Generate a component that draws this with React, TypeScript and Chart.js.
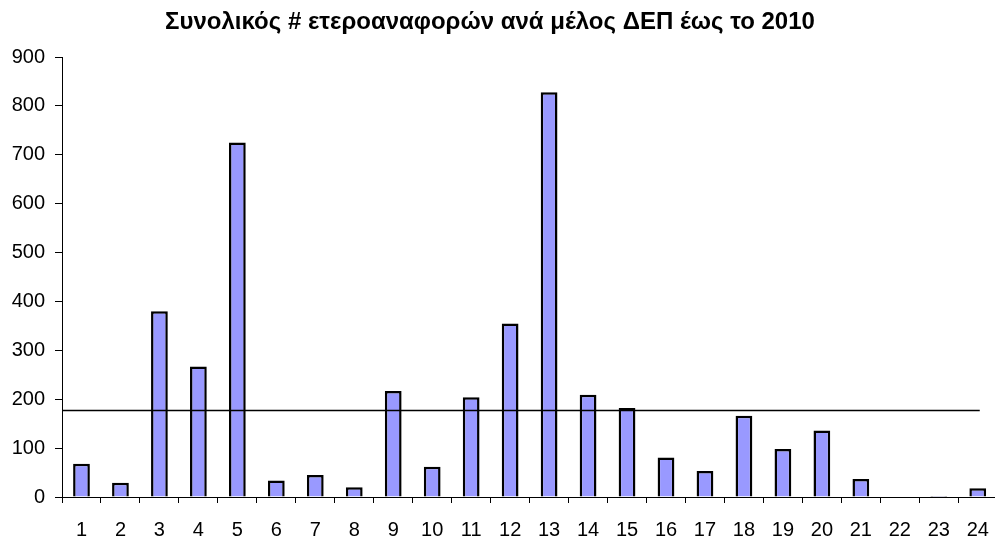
import React, { useEffect, useRef } from "react";
import { Chart, registerables } from "chart.js";

Chart.register(...registerables);

const TITLE = "Συνολικός # ετεροαναφορών ανά μέλος ΔΕΠ έως το 2010";
const categories = ["1","2","3","4","5","6","7","8","9","10","11","12","13","14","15","16","17","18","19","20","21","22","23","24"];
const citations = [68, 29, 380, 267, 725, 34, 45, 20, 217, 62, 204, 355, 828, 209, 182, 81, 53, 166, 98, 136, 37, 0, 2, 18];
const averageValue = 177;
const yTicks = [0, 100, 200, 300, 400, 500, 600, 700, 800, 900];

const FONT = "'Liberation Sans', Arial, sans-serif";

const overlayPlugin = {
  id: "overlay",
  afterDatasetsDraw(chart: any) {
    const ctx = chart.ctx;
    const x = chart.scales.x;
    const y = chart.scales.y;
    const yp = Math.round(y.getPixelForValue(averageValue)) + 0.5;
    ctx.save();
    ctx.strokeStyle = "#000";
    ctx.lineWidth = 1.5;
    ctx.beginPath();
    ctx.moveTo(chart.chartArea.left, yp);
    ctx.lineTo(x.getPixelForValue(categories.length - 1) + 2, yp);
    ctx.stroke();
    ctx.restore();
  },
  afterDraw(chart: any) {
    const ctx = chart.ctx;
    ctx.save();
    ctx.font = `bold 24px ${FONT}`;
    ctx.fillStyle = "#000";
    ctx.textAlign = "center";
    ctx.textBaseline = "middle";
    ctx.fillText(TITLE, 490, 22);
    ctx.restore();
  },
};

export default function App() {
  const ref = useRef<HTMLCanvasElement>(null);
  useEffect(() => {
    if (!ref.current) return;
    const chart = new Chart(ref.current, {
      type: "bar",
      data: {
        labels: categories,
        datasets: [
          {
            data: citations,
            backgroundColor: "#9999FF",
            borderColor: "#000",
            borderWidth: 2.5,
            barPercentage: 0.86,
            categoryPercentage: 0.5,
          },
        ],
      },
      options: {
        animation: false,
        responsive: false,
        maintainAspectRatio: false,
        layout: { padding: { top: 57, right: 6, left: 0, bottom: 0 } },
        plugins: { legend: { display: false }, title: { display: false }, tooltip: { enabled: false } },
        scales: {
          x: {
            offset: true,
            grid: { display: true, offset: true, drawOnChartArea: false, drawTicks: true, tickLength: 6, color: "#000" },
            border: { display: true, color: "#000", width: 1 },
            ticks: { color: "#000", font: { family: FONT, size: 20 }, padding: 15, maxRotation: 0, autoSkip: false },
            afterFit: (s: any) => { s.height = 44; },
          },
          y: {
            min: 0,
            max: 900,
            afterBuildTicks: (s: any) => { s.ticks = yTicks.map((v) => ({ value: v })); },
            grid: { display: true, drawOnChartArea: false, drawTicks: true, tickLength: 7, color: "#000" },
            border: { display: true, color: "#000", width: 1 },
            ticks: { color: "#000", font: { family: FONT, size: 20 }, padding: 10 },
            afterFit: (s: any) => { s.width = 62; },
          },
        },
      },
      plugins: [overlayPlugin],
    });
    return () => chart.destroy();
  }, []);
  return (
    <div style={{ position: "absolute", left: 0, top: 0, width: 995, height: 541, overflow: "hidden", background: "#fff" }}>
      <canvas ref={ref} width={1004} height={541} style={{ display: "block", width: 1004, height: 541 }} />
    </div>
  );
}
